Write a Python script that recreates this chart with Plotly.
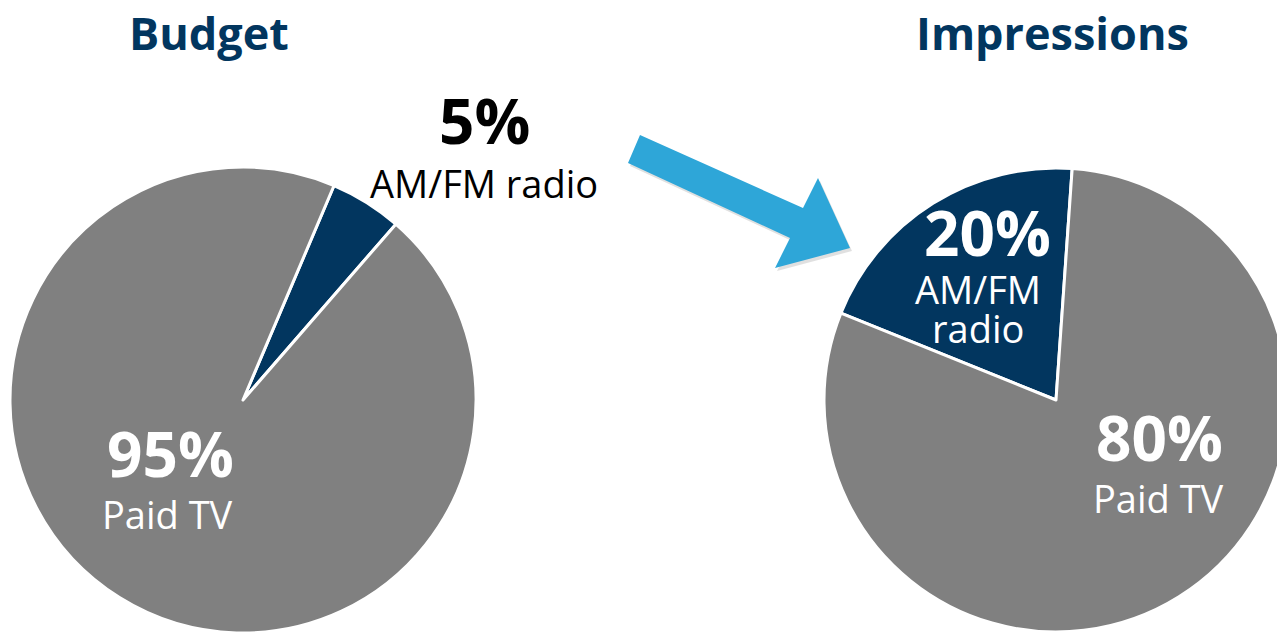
import plotly.graph_objects as go

# Media split: share of budget vs share of impressions
categories = ["AM/FM radio", "Paid TV"]
budget_share = [5, 95]
impression_share = [20, 80]
panel_titles = ["Budget", "Impressions"]

NAVY = "#02365F"
GREY = "#808080"
ARROW = "#2EA6D8"
FONT = "Open Sans"

W, H = 1290, 633


def px(x):
    return x / W


def py(y):
    return 1 - y / H


fig = go.Figure()

# Budget pie
fig.add_trace(go.Pie(
    labels=categories, values=budget_share, sort=False,
    direction="clockwise", rotation=23,
    marker=dict(colors=[NAVY, GREY], line=dict(color="white", width=3)),
    textinfo="none", hoverinfo="label+percent", showlegend=False,
    domain=dict(x=[px(10), px(476)], y=[0, py(167)]),
))

# Impressions pie
fig.add_trace(go.Pie(
    labels=categories, values=impression_share, sort=False,
    direction="clockwise", rotation=-68,
    marker=dict(colors=[NAVY, GREY], line=dict(color="white", width=3)),
    textinfo="none", hoverinfo="label+percent", showlegend=False,
    domain=dict(x=[px(824), px(1288)], y=[py(632), py(168)]),
))

annotations = []


def label(x, y, text, size, color, bold=False):
    annotations.append(dict(
        x=px(x), y=py(y), xref="paper", yref="paper",
        text=f"<b>{text}</b>" if bold else text, showarrow=False,
        xanchor="center", yanchor="middle",
        font=dict(family=FONT, size=size, color=color),
    ))


PCT = 62
CAT = 38

# Panel titles
label(209, 33, panel_titles[0], 45, NAVY, bold=True)
label(1052, 33, panel_titles[1], 45, NAVY, bold=True)

# Budget labels
label(484, 120, f"{budget_share[0]}%", PCT, "black", bold=True)
label(484, 183, categories[0], CAT, "black")
label(170, 453, f"{budget_share[1]}%", PCT, "white", bold=True)
label(167, 514, categories[1], CAT, "white")

# Impressions labels
label(987, 232, f"{impression_share[0]}%", PCT, "white", bold=True)
label(978, 289, "AM/FM", CAT, "white")
label(978, 328, "radio", CAT, "white")
label(1159, 437, f"{impression_share[1]}%", PCT, "white", bold=True)
label(1158, 498, categories[1], CAT, "white")

# Connecting arrow from the budget pie to the impressions pie
arrow_pts = [(640, 135), (803, 208), (818, 178), (850, 248),
             (775, 268), (790, 238), (628, 163)]


def path_from(points, dx=0, dy=0):
    parts = [f"{'M' if i == 0 else 'L'} {px(x + dx)} {py(y + dy)}"
             for i, (x, y) in enumerate(points)]
    return " ".join(parts) + " Z"


shapes = [
    dict(type="path", xref="paper", yref="paper",
         path=path_from(arrow_pts, 2, 3), fillcolor="rgba(0,0,0,0.12)",
         line=dict(width=0), layer="below"),
    dict(type="path", xref="paper", yref="paper",
         path=path_from(arrow_pts), fillcolor=ARROW,
         line=dict(width=0), layer="above"),
]

fig.update_layout(
    width=W, height=H,
    margin=dict(l=0, r=0, t=0, b=0),
    paper_bgcolor="white", plot_bgcolor="white",
    annotations=annotations, shapes=shapes,
    showlegend=False,
)

fig.write_html(
    "out.html",
    config={"displayModeBar": False},
    post_script=(
        "document.documentElement.style.overflow='hidden';"
        "document.body.style.overflow='hidden';"
        "document.body.style.margin='0';"
    ),
)
